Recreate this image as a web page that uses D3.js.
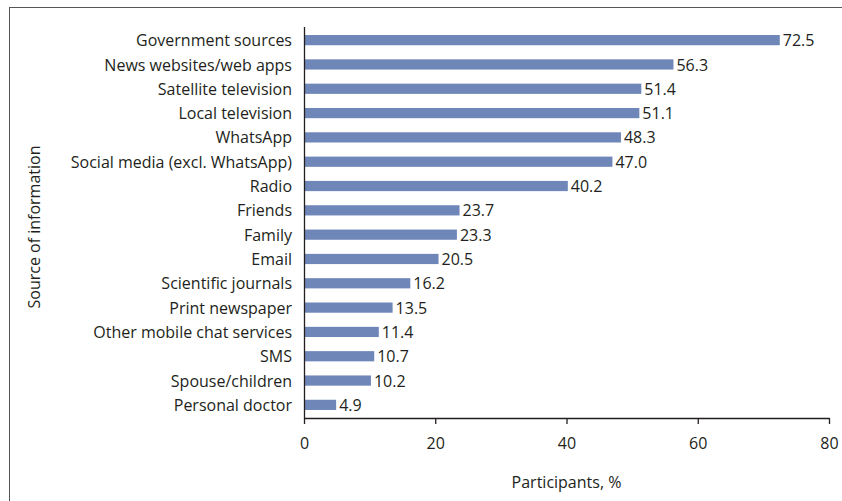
<!DOCTYPE html>
<html>
<head>
<meta charset="utf-8">
<script src="https://cdn.jsdelivr.net/npm/d3@7"></script>
<style>
  body { margin: 0; background: #fff; }
  text { font-family: "Open Sans", sans-serif; fill: #231f20; }
</style>
</head>
<body>
<div id="chart"></div>
<script>
// Data
var sources = ["Government sources", "News websites/web apps", "Satellite television",
    "Local television", "WhatsApp", "Social media (excl. WhatsApp)", "Radio", "Friends",
    "Family", "Email", "Scientific journals", "Print newspaper",
    "Other mobile chat services", "SMS", "Spouse/children", "Personal doctor"];
var percents = [72.5, 56.3, 51.4, 51.1, 48.3, 47.0, 40.2, 23.7, 23.3, 20.5, 16.2, 13.5, 11.4, 10.7, 10.2, 4.9];
var xTicks = [0, 20, 40, 60, 80];

var svgWidth = 842;
var svgHeight = 501;

var margin = { top: 27, bottom: 83, left: 304, right: 13 };
var chartWidth = svgWidth - margin.left - margin.right;
var chartHeight = svgHeight - margin.top - margin.bottom;
var fontSize = "16px";

var svg = d3.select("#chart")
    .append("svg")
    .attr("width", svgWidth)
    .attr("height", svgHeight);

// figure frame
svg.append("rect")
    .attr("x", 9.5)
    .attr("y", 7.5)
    .attr("width", 850)
    .attr("height", 520)
    .attr("fill", "none")
    .attr("stroke", "#555")
    .attr("stroke-width", 1);

var chartGroup = svg.append("g")
    .attr("transform", `translate(${margin.left}, ${margin.top})`);

var xScale = d3.scaleLinear()
    .domain([0, 80])
    .range([0, chartWidth]);

var yScale = d3.scaleBand()
    .domain(sources)
    .range([0, chartHeight])
    .paddingInner(0.58)
    .paddingOuter(0.33);

// bars
chartGroup.selectAll("rect.bar")
    .data(percents)
    .enter()
    .append("rect")
    .attr("class", "bar")
    .attr("x", 0)
    .attr("y", (d, i) => yScale(sources[i]))
    .attr("width", d => xScale(d))
    .attr("height", yScale.bandwidth())
    .attr("fill", "#6f86b9");

// value labels
chartGroup.selectAll("text.val")
    .data(percents)
    .enter()
    .append("text")
    .attr("class", "val")
    .attr("x", d => xScale(d) + 3)
    .attr("y", (d, i) => yScale(sources[i]) + yScale.bandwidth() / 2)
    .attr("dy", "0.38em")
    .style("font-size", fontSize)
    .text(d => d.toFixed(1));

// category labels
chartGroup.selectAll("text.cat")
    .data(sources)
    .enter()
    .append("text")
    .attr("class", "cat")
    .attr("x", -12)
    .attr("y", d => yScale(d) + yScale.bandwidth() / 2)
    .attr("dy", "0.38em")
    .attr("text-anchor", "end")
    .style("font-size", fontSize)
    .text(d => d);

// y axis line
chartGroup.append("line")
    .attr("x1", 0.5).attr("x2", 0.5)
    .attr("y1", 0).attr("y2", chartHeight)
    .attr("stroke", "#231f20")
    .attr("stroke-width", 1.3);

// x axis
var xAxis = d3.axisBottom(xScale)
    .tickValues(xTicks)
    .tickSize(6)
    .tickPadding(14)
    .tickSizeOuter(0);

var xg = chartGroup.append("g")
    .attr("transform", `translate(0, ${chartHeight})`)
    .call(xAxis);
xg.select(".domain").attr("stroke", "#231f20").attr("stroke-width", 1.3);
xg.selectAll(".tick line").attr("stroke", "#231f20").attr("stroke-width", 1.3);
xg.selectAll(".tick text")
    .style("font-size", fontSize)
    .style("font-family", "'Open Sans', sans-serif")
    .attr("fill", "#231f20");

// axis titles
chartGroup.append("text")
    .attr("x", chartWidth / 2)
    .attr("y", chartHeight + 70)
    .attr("text-anchor", "middle")
    .style("font-size", fontSize)
    .text("Participants, %");

chartGroup.append("text")
    .attr("transform", "rotate(-90)")
    .attr("x", -200)
    .attr("y", -264)
    .attr("text-anchor", "middle")
    .style("font-size", fontSize)
    .text("Source of information");
</script>
</body>
</html>
